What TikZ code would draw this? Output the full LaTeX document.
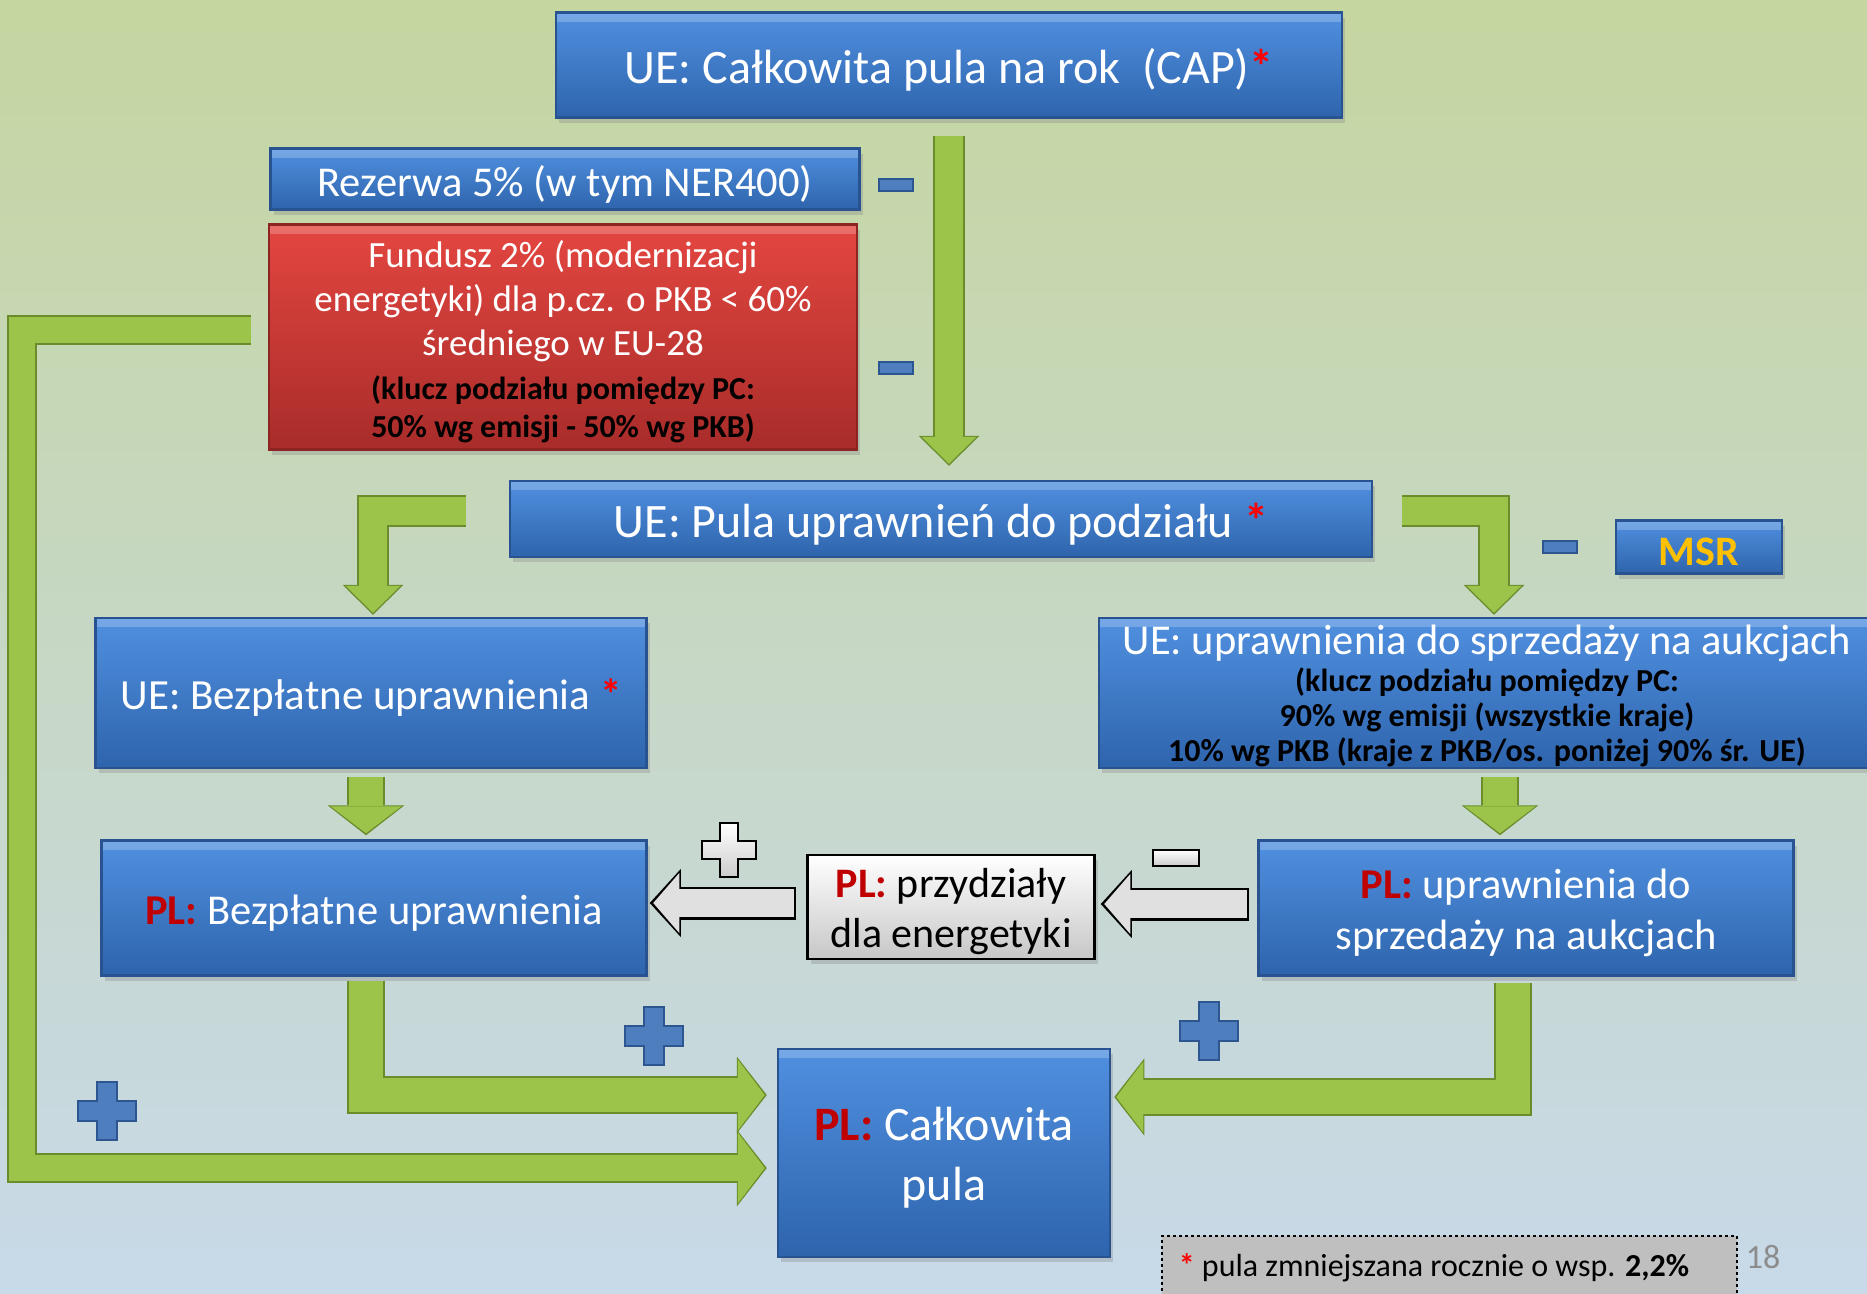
\documentclass[tikz,border=0pt]{standalone}
\usepackage{fontspec}
\setmainfont{Carlito}
\usetikzlibrary{
	arrows.meta,
	calc,
	positioning,
	shadows
}
\definecolor{BoxTop}{RGB}{80,144,224}
\definecolor{BoxBot}{RGB}{46,100,172}
\definecolor{BoxEdge}{RGB}{40,82,144}
\definecolor{FundTop}{RGB}{228,70,64}
\definecolor{FundBot}{RGB}{168,44,42}
\definecolor{FundEdge}{RGB}{140,36,34}
\definecolor{ArrowGreen}{RGB}{156,196,74}
\definecolor{ArrowEdge}{RGB}{106,140,42}
\definecolor{SignBlue}{RGB}{79,126,190}
\definecolor{SignEdge}{RGB}{45,86,145}
\definecolor{PLRed}{RGB}{192,0,0}
\definecolor{StarRed}{RGB}{255,0,0}
\definecolor{MSRGold}{RGB}{255,192,0}
\definecolor{BgTop}{RGB}{197,214,160}
\definecolor{BgBot}{RGB}{200,217,233}

\newcommand{\fsz}[2]{\fontsize{#1}{#2}\selectfont}
\newcommand{\plmark}{{\color{PLRed}\bfseries PL:}}
\newcommand{\redstar}{{\color{StarRed}\bfseries *}}

\tikzset{
	bluebox/.style={draw=BoxEdge, line width=2.5pt, top color=BoxTop, bottom color=BoxBot,
		inner sep=0pt,
		drop shadow={opacity=0.3, shadow xshift=3pt, shadow yshift=-5pt},
		path picture={\fill[white, opacity=0.22] (path picture bounding box.north west)
			rectangle ([yshift=-9pt]path picture bounding box.north east);}},
	redbox/.style={bluebox, draw=FundEdge, top color=FundTop, bottom color=FundBot},
	greybox/.style={draw=black, line width=2.5pt, top color=white, bottom color=black!22,
		inner sep=0pt,
		drop shadow={opacity=0.3, shadow xshift=3pt, shadow yshift=-5pt}},
	boxlabel/.style={text=white, align=center, inner sep=0pt, yshift=-5pt},
	notebox/.style={draw=black, dashed, line width=2pt, fill=black!25, inner sep=0pt},
	garrow/.style={draw=ArrowGreen, line width=28pt, shorten >=2pt,
		-{Triangle[width=55pt,length=27pt,line width=0pt]},
		preaction={draw=ArrowEdge, line width=32pt, shorten >=0pt,
			-{Triangle[width=61pt,length=30pt,line width=0pt]}}},
	garrowfat/.style={draw=ArrowGreen, line width=34pt, shorten >=2pt,
		-{Triangle[width=71pt,length=27pt,line width=0pt]},
		preaction={draw=ArrowEdge, line width=38pt, shorten >=0pt,
			-{Triangle[width=77pt,length=30pt,line width=0pt]}}},
	garrowlong/.style={draw=ArrowGreen, line width=26pt, shorten >=2pt,
		-{Triangle[width=71pt,length=27pt,line width=0pt]},
		preaction={draw=ArrowEdge, line width=30pt, shorten >=0pt,
			-{Triangle[width=77pt,length=30pt,line width=0pt]}}},
	warrow/.style={draw=black!12, line width=28pt, shorten >=3.5pt, shorten <=2.5pt,
		-{Triangle[width=60pt,length=26pt,line width=0pt]},
		preaction={draw=black, line width=33pt, shorten >=0pt, shorten <=0pt,
			-{Triangle[width=68pt,length=31pt,line width=0pt]}}},
	plusblue/.pic={\filldraw[fill=SignBlue, draw=SignEdge, line width=2pt]
		(-10,-29) -- (10,-29) -- (10,-10) -- (29,-10) -- (29,10) -- (10,10) -- (10,29)
		-- (-10,29) -- (-10,10) -- (-29,10) -- (-29,-10) -- (-10,-10) -- cycle;},
	pluswhite/.pic={\shade[top color=white, bottom color=black!20, draw=black, line width=2.5pt]
		(-9,-27) -- (9,-27) -- (9,-9) -- (27,-9) -- (27,9) -- (9,9) -- (9,27)
		-- (-9,27) -- (-9,9) -- (-27,9) -- (-27,-9) -- (-9,-9) -- cycle;},
	minusblue/.pic={\filldraw[fill=SignBlue, draw=SignEdge, line width=2pt]
		(-17,-6) rectangle (17,6);},
	minuswhite/.pic={\shade[top color=white, bottom color=black!20, draw=black, line width=2.5pt]
		(-23,-8) rectangle (23,8);}
}

\begin{document}
\begin{tikzpicture}[x=1pt, y=-1pt]
	% tlo
	\shade[top color=BgTop, bottom color=BgBot] (0,0) rectangle (1867,1293);
	\useasboundingbox (0,0) rectangle (1867,1293);

	% poziom UE
	\node[bluebox, minimum width=786pt, minimum height=105pt,
		label={[boxlabel, font=\fsz{48}{56}]center:{UE: Całkowita pula na rok\ \ (CAP)\redstar}}] (cap) at (949,65) {};
	\node[bluebox, minimum width=589pt, minimum height=61pt,
		label={[boxlabel, font=\fsz{42.5}{50}]center:{Rezerwa 5\% (w tym NER400)}}] (rez) at (565,179) {};
	\node[redbox, minimum width=588pt, minimum height=225pt,
		label={[boxlabel, font=\fsz{37}{44}]center:{Fundusz 2\% (modernizacji\\
		 energetyki) dla p.cz. o PKB < 60\%\\
		 średniego w EU-28\\
		 \fsz{32}{38}\bfseries\color{black}(klucz podziału pomiędzy PC:\\[-6pt]
		 \fsz{32}{38}\bfseries\color{black}50\% wg emisji - 50\% wg PKB)}}] (fund) at (563,337) {};
	\node[bluebox, minimum width=862pt, minimum height=76pt,
		label={[boxlabel, font=\fsz{48}{56}]center:{UE: Pula uprawnień do podziału \redstar}}] (pula) at (941,519) {};
	\node[bluebox, minimum width=166pt, minimum height=53pt,
		label={[boxlabel, font=\fsz{42}{50}\bfseries, text=MSRGold]center:MSR}] (msr) at (1699,547) {};
	\node[bluebox, minimum width=551pt, minimum height=150pt,
		label={[boxlabel, font=\fsz{43}{50}]center:{UE: Bezpłatne uprawnienia \redstar}}] (uebez) at (371,693) {};
	\node[bluebox, minimum width=776pt, minimum height=150pt,
		label={[boxlabel, font=\fsz{42.5}{35}, yshift=2pt]center:{UE: uprawnienia do sprzedaży na aukcjach\\[2pt]
		 \fsz{32}{35}\bfseries\color{black}(klucz podziału pomiędzy PC:\\
		 \fsz{32}{35}\bfseries\color{black}90\% wg emisji (wszystkie kraje)\\
		 \fsz{32}{35}\bfseries\color{black}10\% wg PKB (kraje z PKB/os. poniżej 90\% śr. UE)}}] (ueauk) at (1487,693) {};

	% poziom PL
	\node[bluebox, minimum width=545pt, minimum height=135pt,
		label={[boxlabel, font=\fsz{42.5}{50}]center:{\plmark{} Bezpłatne uprawnienia}}] (plbez) at (374,908) {};
	\node[greybox, minimum width=287pt, minimum height=104pt,
		label={[boxlabel, text=black, font=\fsz{42}{50}]center:{\plmark{} przydziały\\ dla energetyki}}] (przy) at (951,907) {};
	\node[bluebox, minimum width=535pt, minimum height=135pt,
		label={[boxlabel, font=\fsz{42.5}{51}]center:{\plmark{} uprawnienia do\\ sprzedaży na aukcjach}}] (plauk) at (1526,908) {};
	\node[bluebox, minimum width=332pt, minimum height=208pt,
		label={[boxlabel, font=\fsz{48}{60}]center:{\plmark{} Całkowita\\ pula}}] (plcal) at (944,1153) {};

	% przypis
	\node[notebox, minimum width=575pt, minimum height=64pt, font=\fsz{32}{38}] (note) at (1449,1268)
		{\redstar{} pula zmniejszana rocznie o wsp. \textbf{2,2\%}\hspace*{30pt}};
	\node[text=black!45, font=\fsz{34}{40}] (page) at (1763,1257) {18};

	% strzalki zielone
	\draw[garrow] ([yshift=-17pt]cap.south) -- ([yshift=14pt]pula.north -| cap.south);
	\draw[garrow] ([xshift=-43pt,yshift=8pt]pula.west) -| ([xshift=2pt,yshift=2pt]uebez.north);
	\draw[garrow] ([xshift=29pt,yshift=8pt]pula.east) -| ([xshift=7pt,yshift=2pt]ueauk.north);
	\draw[garrowfat] ([xshift=-5pt,yshift=-8pt]uebez.south) -- ([xshift=-5pt,yshift=4pt]uebez.south |- plbez.north);
	\draw[garrowfat] ([xshift=13pt,yshift=-8pt]ueauk.south) -- ([xshift=13pt,yshift=4pt]ueauk.south |- plauk.north);
	\draw[garrowlong] ([xshift=-17pt,yshift=7pt]fund.west) -- ++(-229,0)
		|- ([xshift=-10pt,yshift=-15pt]plcal.west);
	\draw[garrowfat] ([xshift=-8pt,yshift=-4pt]plbez.south) |- ([xshift=-10pt,yshift=58pt]plcal.west);
	\draw[garrowfat] ([xshift=-13pt,yshift=-6pt]plauk.south) |- ([xshift=3pt,yshift=56pt]plcal.east);

	% strzalki biale
	\draw[warrow] ([xshift=-10pt,yshift=4pt]przy.west) -- ([xshift=2pt,yshift=4pt]przy.west -| plbez.east);
	\draw[warrow] ([xshift=-8pt,yshift=4pt]plauk.west) -- ([xshift=5pt,yshift=4pt]plauk.west -| przy.east);

	% znaki
	\pic at (896,185) {minusblue};
	\pic at (896,368) {minusblue};
	\pic at (1560,547) {minusblue};
	\pic at (1176,858) {minuswhite};
	\pic at (729,850) {pluswhite};
	\pic at (654,1036) {plusblue};
	\pic at (1209,1031) {plusblue};
	\pic at (107,1111) {plusblue};
\end{tikzpicture}
\end{document}
